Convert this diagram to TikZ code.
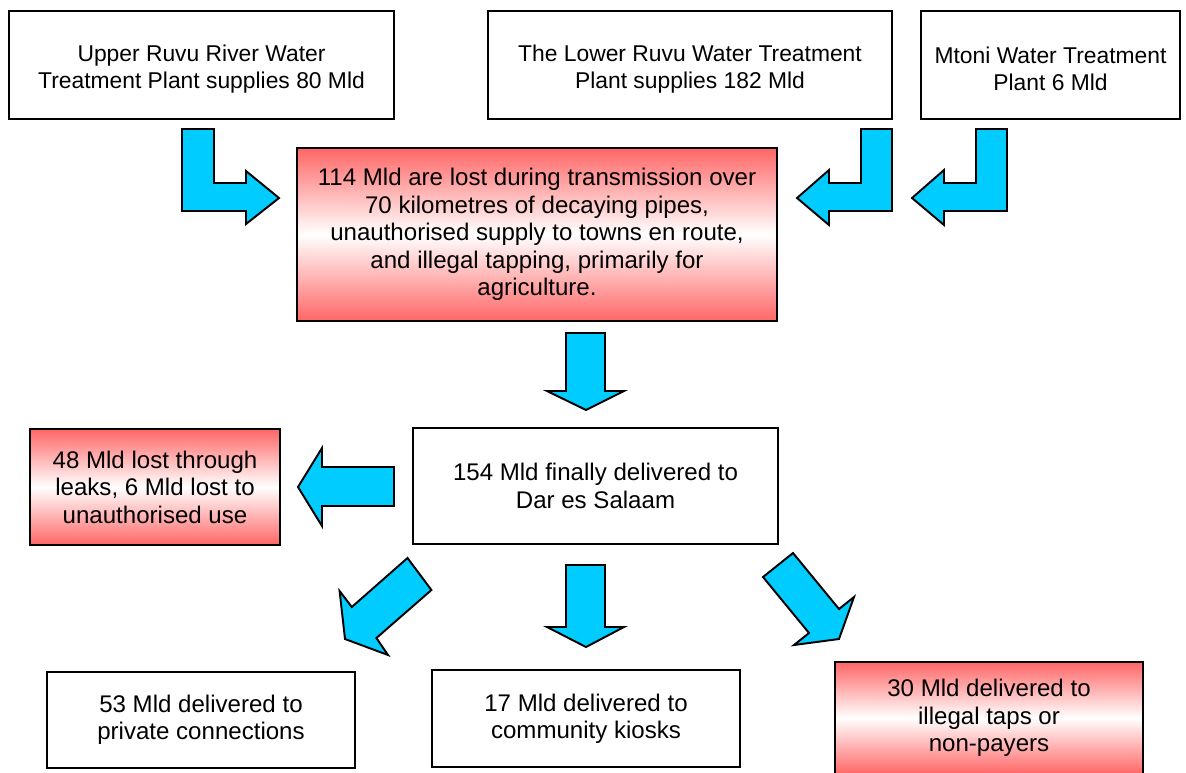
\documentclass[tikz,border=0pt]{standalone}
\usepackage{fontspec}
\setmainfont{Liberation Sans}
\usetikzlibrary{positioning}
\definecolor{flowblue}{RGB}{0,204,255}
\definecolor{lossred}{RGB}{255,102,102}
\newcommand{\toppad}{\rule{0pt}{14pt}}

\begin{document}
\begin{tikzpicture}[
        x=0.02cm, y=-0.02cm,
        box/.style={rectangle, draw=black, line width=0.9pt, fill=white, align=center, font=\fontsize{13.7}{15.6}\selectfont},
        plantbox/.style={box, minimum height=2.16cm, font=\fontsize{13}{15.6}\selectfont},
        lossbox/.style={box, top color=lossred, bottom color=lossred, middle color=white},
        blockarrow/.style={draw=black, line width=1.1pt, fill=flowblue, line join=miter}
    ]
        \clip (0,0) rectangle (1186,772);
        % supply plants
        \node[plantbox, minimum width=7.7cm] (upper) at (201.5,65) {\toppad Upper Ruvu River Water\\Treatment Plant supplies 80 Mld};
        \node[plantbox, minimum width=8.08cm] (lower) at (690,65) {\toppad The Lower Ruvu Water Treatment\\Plant supplies 182 Mld};
        \node[plantbox, minimum width=5.18cm] (mtoni) at (1050.5,65) {\toppad Mtoni Water Treatment\\Plant 6 Mld};
        % transmission
        \node[lossbox, minimum width=9.6cm, minimum height=3.46cm] (transloss) at (537,234.5) {114 Mld are lost during transmission over\\70 kilometres of decaying pipes,\\unauthorised supply to towns en route,\\and illegal tapping, primarily for\\agriculture.};
        \node[box, minimum width=7.3cm, minimum height=2.32cm] (dar) at (595.5,486) {154 Mld finally delivered to\\Dar es Salaam};
        \node[lossbox, minimum width=5cm, minimum height=2.32cm] (leaks) at (155,487) {48 Mld lost through\\leaks, 6 Mld lost to\\unauthorised use};
        % delivery
        \node[box, minimum width=6.16cm, minimum height=1.92cm] (private) at (201,720) {53 Mld delivered to\\private connections};
        \node[box, minimum width=6.16cm, minimum height=1.94cm] (kiosks) at (586,718.5) {17 Mld delivered to\\community kiosks};
        \node[lossbox, minimum width=6.16cm, minimum height=2.24cm] (illegal) at (989,718) {30 Mld delivered to\\illegal taps or\\non-payers};

        % block arrows
        \draw[blockarrow] (182,129) -- (214,129) -- (214,183) -- (246,183) -- (246,171) -- (279,198) -- (246,224) -- (246,211) -- (182,211) -- cycle;
        \draw[blockarrow] (892,129) -- (861,129) -- (861,183) -- (829,183) -- (829,170) -- (797,198) -- (829,225) -- (829,211) -- (892,211) -- cycle;
        \draw[blockarrow] (1007,129) -- (976,129) -- (976,183) -- (944,183) -- (944,170) -- (912,198) -- (944,225) -- (944,211) -- (1007,211) -- cycle;
        \draw[blockarrow] (566,333) -- (605,333) -- (605,391) -- (624,391) -- (586,410) -- (547,391) -- (566,391) -- cycle;
        \draw[blockarrow] (394,467) -- (394,506) -- (322,506) -- (322,526) -- (298,487) -- (322,448) -- (322,467) -- cycle;
        \draw[blockarrow] (566,565) -- (605,565) -- (605,627) -- (624,627) -- (586,647) -- (547,627) -- (566,627) -- cycle;
        \draw[blockarrow] (407.5,558) -- (431.4,590) -- (376.4,638) -- (388,655) -- (345,639) -- (339.6,591) -- (351.8,607) -- cycle;
        \draw[blockarrow] (793,553) -- (763,577) -- (809,633) -- (794,645) -- (839,639) -- (854,597) -- (839,609) -- cycle;
    \end{tikzpicture}
\end{document}
